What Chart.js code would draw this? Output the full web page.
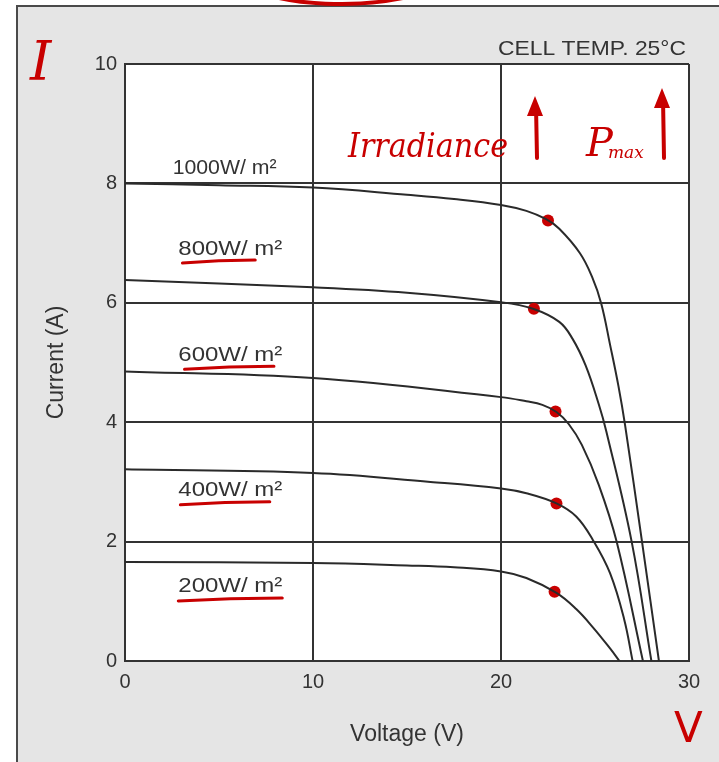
<!DOCTYPE html>
<html>
<head>
<meta charset="utf-8">
<script src="https://cdn.jsdelivr.net/npm/chart.js@4"></script>
<style>
  html, body { margin: 0; padding: 0; background: #ffffff; }
  #wrap { width: 719px; height: 762px; }
</style>
</head>
<body>
<div id="wrap"><canvas id="iv" width="719" height="762"></canvas></div>
<script>
// I-V characteristics of a PV module at several irradiance levels (cell temp 25 °C)
const irradianceLabels = ['1000W/ m²', '800W/ m²', '600W/ m²', '400W/ m²', '200W/ m²'];

const volt1000 = [0, 5, 10, 15, 17.5, 20, 21.35, 22.4, 23.1, 24.2, 24.85, 25.33, 25.8, 26.25, 26.6, 27.5, 28.4];
const amp1000  = [8.0, 7.97, 7.93, 7.81, 7.74, 7.64, 7.54, 7.40, 7.24, 6.83, 6.43, 5.99, 5.3, 4.6, 3.95, 2.0, 0];

const volt800 = [0, 10, 15, 20, 21.7, 23.1, 23.8, 24.5, 25.2, 25.6, 26.95, 28.0];
const amp800  = [6.38, 6.26, 6.17, 6.01, 5.9, 5.68, 5.4, 4.95, 4.3, 3.85, 2.0, 0];

const volt600 = [0, 10, 20, 21.35, 22.2, 22.95, 23.6, 24.3, 25.2, 26.15, 27.55];
const amp600  = [4.85, 4.74, 4.42, 4.35, 4.29, 4.17, 3.97, 3.62, 2.95, 2.0, 0];

const volt400 = [0, 10, 16.25, 20, 21.35, 22.95, 24.0, 24.9, 25.8, 26.55, 27.0];
const amp400  = [3.21, 3.15, 3.0, 2.89, 2.81, 2.64, 2.42, 2.02, 1.47, 0.7, 0];

const volt200 = [0, 10, 15, 17.5, 20, 21.35, 22.95, 24.0, 24.9, 25.8, 26.3];
const amp200  = [1.66, 1.64, 1.60, 1.57, 1.50, 1.39, 1.14, 0.87, 0.56, 0.21, 0];

// maximum power points marked on each curve
const mppVolt = [22.5, 21.75, 22.9, 22.95, 22.85];
const mppAmp  = [7.38, 5.9, 4.18, 2.64, 1.16];

// where each irradiance label sits (volts, amps)
const labelVolt = [5.3, 5.6, 5.6, 5.6, 5.6];
const labelAmp  = [8.25, 6.9, 5.12, 2.85, 1.24];

const xTicks = [0, 10, 20, 30];
const yTicks = [0, 2, 4, 6, 8, 10];

const INK = '#333333';
const RED = '#c80000';
const FONT = '"Liberation Sans", Arial, sans-serif';
const HAND = '"DejaVu Serif", serif';

function pts(vs, is) { return vs.map((v, k) => ({ x: v, y: is[k] })); }

const curves = [
  pts(volt1000, amp1000), pts(volt800, amp800), pts(volt600, amp600),
  pts(volt400, amp400), pts(volt200, amp200)
];

const datasets = curves.map((d, k) => ({
  label: irradianceLabels[k],
  data: d,
  showLine: true,
  borderColor: '#2a2a2a',
  borderWidth: 2,
  pointRadius: 0,
  tension: 0.4,
  fill: false
}));
datasets.push({
  label: 'Pmax',
  data: pts(mppVolt, mppAmp),
  showLine: false,
  pointRadius: 6,
  pointBackgroundColor: RED,
  pointBorderWidth: 0
});

const panelPlugin = {
  id: 'panel',
  beforeDraw(chart) {
    const { ctx, chartArea: a, width, height } = chart;
    ctx.save();
    ctx.fillStyle = '#ffffff';
    ctx.fillRect(0, 0, width, height);
    ctx.fillStyle = '#e5e5e5';
    ctx.fillRect(17, 5, width - 17, height - 5);
    ctx.strokeStyle = '#4a4a4a';
    ctx.lineWidth = 2;
    ctx.beginPath();
    ctx.moveTo(17, height); ctx.lineTo(17, 6); ctx.lineTo(width, 6);
    ctx.stroke();
    ctx.fillStyle = '#ffffff';
    ctx.fillRect(a.left, a.top, a.right - a.left, a.bottom - a.top);
    // red circling stroke above the frame
    ctx.strokeStyle = RED;
    ctx.lineWidth = 4;
    ctx.beginPath();
    ctx.ellipse(341, -24, 100, 28, 0, 0.05 * Math.PI, 0.95 * Math.PI);
    ctx.stroke();
    ctx.restore();
  }
};

const textPlugin = {
  id: 'texts',
  afterDraw(chart) {
    const { ctx, scales: { x, y } } = chart;
    ctx.save();
    // header
    ctx.fillStyle = INK;
    ctx.font = '21px ' + FONT;
    ctx.textAlign = 'right';
    ctx.textBaseline = 'middle';
    const head = 'CELL TEMP. 25°C';
    const hw = ctx.measureText(head).width;
    ctx.save();
    ctx.translate(686, 49);
    ctx.scale(188 / hw, 1);
    ctx.fillText(head, 0, 0);
    ctx.restore();

    // irradiance labels + red underlines
    const under = [null, [0.04, 0.74], [0.06, 0.92], [0.02, 0.88], [0.0, 1.0]];
    ctx.textAlign = 'center';
    irradianceLabels.forEach((t, k) => {
      const px = x.getPixelForValue(labelVolt[k]);
      const py = y.getPixelForValue(labelAmp[k]);
      ctx.font = '20px ' + FONT;
      const w = ctx.measureText(t).width;
      ctx.save();
      ctx.translate(px, py);
      ctx.scale(104 / w, 1);
      ctx.fillStyle = INK;
      ctx.fillText(t, 0, 0);
      ctx.restore();
      if (under[k]) {
        const l = px - 52 + 104 * under[k][0];
        const r = px - 52 + 104 * under[k][1];
        ctx.strokeStyle = RED;
        ctx.lineWidth = 3;
        ctx.lineCap = 'round';
        ctx.beginPath();
        ctx.moveTo(l, py + 14);
        ctx.quadraticCurveTo((l + r) / 2, py + 11, r, py + 11);
        ctx.stroke();
      }
    });

    // handwritten notes
    ctx.fillStyle = RED;
    ctx.strokeStyle = RED;
    ctx.textAlign = 'left';
    ctx.textBaseline = 'alphabetic';
    ctx.font = 'italic 54px ' + HAND;
    ctx.fillText('I', 30, 80);

    ctx.font = 'italic 34px ' + HAND;
    const irr = 'Irradiance';
    const iw = ctx.measureText(irr).width;
    ctx.save();
    ctx.translate(348, 157);
    ctx.scale(160 / iw, 1);
    ctx.fillText(irr, 0, 0);
    ctx.restore();

    ctx.font = 'italic 40px ' + HAND;
    ctx.fillText('P', 586, 156);
    ctx.font = 'italic 17px ' + HAND;
    ctx.fillText('max', 608, 158);

    ctx.font = '42px "DejaVu Sans", sans-serif';
    ctx.fillText('V', 674, 742);

    // up arrows
    [[537, 158, 96], [664, 158, 88]].forEach(([ax, yb, yt]) => {
      ctx.lineWidth = 4;
      ctx.lineCap = 'round';
      ctx.beginPath();
      ctx.moveTo(ax, yb); ctx.lineTo(ax - 1, yt + 10);
      ctx.stroke();
      ctx.beginPath();
      ctx.moveTo(ax - 2, yt);
      ctx.lineTo(ax - 10, yt + 20);
      ctx.lineTo(ax + 6, yt + 20);
      ctx.closePath();
      ctx.fill();
    });
    ctx.restore();
  }
};

new Chart(document.getElementById('iv'), {
  type: 'scatter',
  data: { datasets },
  options: {
    responsive: false,
    animation: false,
    events: [],
    layout: { padding: { left: 0, right: 30, top: 64, bottom: 0 } },
    plugins: { legend: { display: false }, tooltip: { enabled: false } },
    scales: {
      x: {
        type: 'linear', min: 0, max: 30,
        afterBuildTicks(s) { s.ticks = xTicks.map(v => ({ value: v })); },
        afterFit(s) { s.height = 101; },
        grid: { color: INK, lineWidth: 2, drawTicks: false },
        border: { display: true, color: INK, width: 2 },
        ticks: { color: INK, font: { family: FONT, size: 20 }, padding: 9 },
        title: { display: true, text: 'Voltage (V)', color: INK,
                 font: { family: FONT, size: 23 }, padding: { top: 0, bottom: 14 } }
      },
      y: {
        type: 'linear', min: 0, max: 10,
        afterBuildTicks(s) { s.ticks = yTicks.map(v => ({ value: v })); },
        afterFit(s) { s.width = 125; },
        grid: { color: INK, lineWidth: 2, drawTicks: false },
        border: { display: true, color: INK, width: 2 },
        ticks: { color: INK, font: { family: FONT, size: 20 }, padding: 8 },
        title: { display: true, text: 'Current (A)', color: INK,
                 font: { family: FONT, size: 23 }, padding: { top: 43, bottom: 0 } }
      }
    }
  },
  plugins: [panelPlugin, textPlugin]
});
</script>
</body>
</html>
